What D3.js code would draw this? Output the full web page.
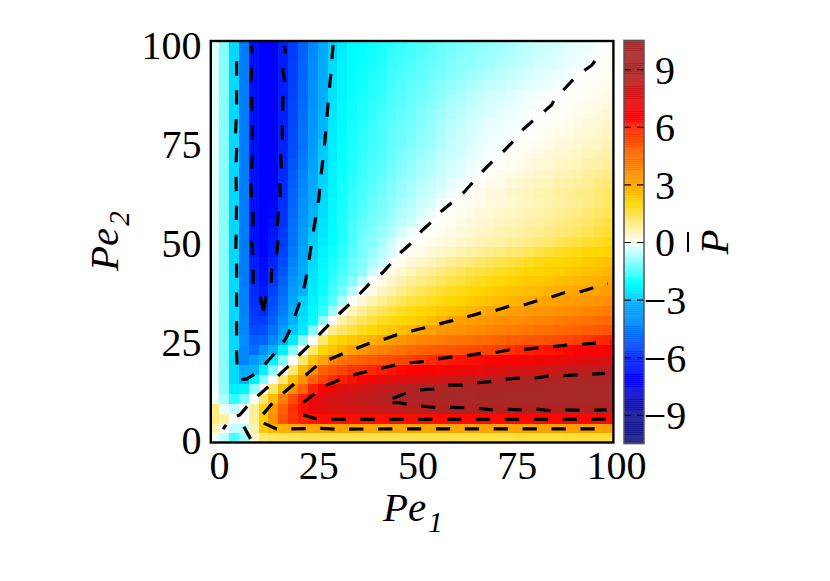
<!DOCTYPE html>
<html>
<head>
<meta charset="utf-8">
<script src="https://cdn.jsdelivr.net/npm/d3@7"></script>
<style>
body { margin: 0; background: #fff; }
text { font-family: "Liberation Serif", serif; fill: #000; }
.tick text { font-size: 40px; }
.axisTitle { font-size: 41px; font-style: italic; }
.axisSub { font-size: 29px; font-style: italic; }
</style>
</head>
<body>
<div id="chart"></div>
<script>
var width = 830, height = 581;

var xTicks = [0, 25, 50, 75, 100];
var yTicks = [0, 25, 50, 75, 100];
var barTicks = [-9, -6, -3, 0, 3, 6, 9];

// colour bar stops
var paletteValues = [-10.5, -9, -7.5, -7, -6.2, -5, -4, -3.05, -3, -2.1, 0, 2, 3, 5.4, 6.5, 8.7, 10.5];
var paletteColors = ["#1a1a80", "#14149c", "#0808e8", "#0000ff", "#0020ff", "#0060ff", "#0090ff", "#00b4ff",
    "#00c8ff", "#00ffff", "#ffffff", "#ffd700", "#ffa500", "#ff4500", "#ff0000", "#b22222", "#a52a2a"];

// P values per cell, top row (Pe2 = 100) first, each row Pe1 = 0..100 in steps of 2.5
var pRows = [
[-.25,-1,-2.7,-4.4,-6.6,-7,-7,-6.3,-5.7,-5,-4.2,-3.4,-2.8,-2.4,-2.15,-2.05,-1.95,-1.85,-1.75,-1.65,-1.55,-1.45,-1.35,-1.25,-1.15,-1.05,-1,-.9,-.85,-.8,-.7,-.6,-.55,-.45,-.4,-.35,-.25,-.2,-.15,-.05,0],
[-.25,-1,-2.7,-4.4,-6.6,-7,-7,-6.3,-5.7,-4.95,-4.15,-3.35,-2.75,-2.35,-2.15,-2.05,-1.95,-1.85,-1.7,-1.6,-1.5,-1.4,-1.3,-1.2,-1.1,-1,-.95,-.85,-.8,-.7,-.65,-.55,-.5,-.4,-.35,-.28,-.2,-.15,-.1,0,.03],
[-.25,-1,-2.7,-4.4,-6.6,-7,-7,-6.3,-5.65,-4.9,-4.1,-3.3,-2.7,-2.3,-2.1,-2,-1.9,-1.8,-1.65,-1.55,-1.45,-1.35,-1.25,-1.15,-1.05,-.95,-.9,-.8,-.75,-.65,-.55,-.5,-.45,-.35,-.3,-.25,-.18,-.12,-.05,.02,.06],
[-.25,-1,-2.7,-4.4,-6.6,-7,-7,-6.3,-5.6,-4.9,-4.05,-3.25,-2.65,-2.3,-2.1,-1.95,-1.85,-1.75,-1.6,-1.5,-1.4,-1.3,-1.2,-1.1,-1,-.9,-.8,-.75,-.65,-.55,-.5,-.42,-.35,-.28,-.22,-.16,-.1,0,.02,.05,.1],
[-.25,-1,-2.7,-4.4,-6.6,-7,-7,-6.25,-5.6,-4.85,-4,-3.2,-2.6,-2.25,-2.05,-1.95,-1.8,-1.7,-1.55,-1.45,-1.35,-1.25,-1.1,-1,-.9,-.8,-.7,-.6,-.5,-.45,-.38,-.32,-.25,-.2,-.15,-.1,0,.02,.05,.09,.15],
[-.25,-1,-2.7,-4.4,-6.6,-7,-7,-6.25,-5.55,-4.8,-3.95,-3.2,-2.6,-2.25,-2.05,-1.9,-1.8,-1.65,-1.5,-1.4,-1.3,-1.2,-1.05,-.95,-.8,-.7,-.6,-.5,-.4,-.35,-.28,-.22,-.16,-.1,-.05,0,.02,.05,.09,.14,.2],
[-.25,-1,-2.7,-4.4,-6.6,-7,-7,-6.2,-5.5,-4.75,-3.9,-3.15,-2.55,-2.2,-2,-1.85,-1.75,-1.6,-1.45,-1.35,-1.25,-1.1,-1,-.85,-.72,-.62,-.52,-.42,-.34,-.26,-.2,-.15,-.1,-.06,0,.02,.05,.1,.14,.2,.27],
[-.25,-1,-2.7,-4.4,-6.6,-7,-7,-6.2,-5.5,-4.7,-3.85,-3.1,-2.5,-2.2,-2,-1.85,-1.7,-1.55,-1.4,-1.3,-1.2,-1.05,-.92,-.8,-.65,-.55,-.45,-.35,-.28,-.2,-.15,-.1,-.05,0,.02,.05,.1,.15,.2,.26,.34],
[-.25,-1,-2.7,-4.4,-6.6,-7,-7,-6.2,-5.45,-4.65,-3.8,-3.05,-2.45,-2.15,-1.95,-1.8,-1.65,-1.5,-1.35,-1.25,-1.15,-1,-.88,-.72,-.58,-.48,-.38,-.28,-.2,-.14,-.1,-.05,0,.03,.06,.1,.16,.22,.28,.34,.42],
[-.25,-1,-2.7,-4.4,-6.6,-7,-7,-6.2,-5.4,-4.6,-3.75,-3.05,-2.4,-2.1,-1.9,-1.75,-1.6,-1.45,-1.3,-1.2,-1.1,-.95,-.82,-.68,-.55,-.42,-.32,-.22,-.15,-.1,-.05,0,.03,.06,.12,.18,.24,.3,.35,.42,.5],
[-.25,-1,-2.7,-4.4,-6.6,-7,-7,-6.2,-5.4,-4.6,-3.7,-3,-2.4,-2.1,-1.9,-1.75,-1.6,-1.45,-1.3,-1.2,-1.05,-.9,-.8,-.65,-.5,-.4,-.3,-.2,-.1,-.05,0,.03,.08,.12,.2,.25,.3,.38,.45,.5,.6],
[-.25,-1,-2.7,-4.4,-6.6,-7,-7,-6.15,-5.3,-4.5,-3.6,-2.95,-2.4,-2.05,-1.85,-1.7,-1.55,-1.4,-1.25,-1.1,-.95,-.85,-.7,-.55,-.45,-.35,-.25,-.15,-.08,0,.05,.1,.15,.2,.3,.35,.4,.45,.55,.6,.7],
[-.25,-1,-2.7,-4.4,-6.6,-7,-7,-6.1,-5.2,-4.4,-3.5,-2.9,-2.35,-2.05,-1.85,-1.65,-1.5,-1.35,-1.2,-1.05,-.9,-.75,-.65,-.5,-.38,-.28,-.2,-.1,0,.05,.1,.15,.25,.3,.35,.45,.5,.55,.65,.7,.8],
[-.25,-1,-2.7,-4.4,-6.6,-7,-7,-6.05,-5.1,-4.3,-3.4,-2.85,-2.3,-2,-1.8,-1.6,-1.45,-1.3,-1.15,-1,-.85,-.7,-.58,-.45,-.32,-.22,-.12,0,.05,.15,.2,.25,.35,.4,.45,.55,.6,.65,.75,.85,.95],
[-.25,-1,-2.7,-4.4,-6.6,-7,-7,-6,-5.05,-4.2,-3.35,-2.8,-2.3,-1.95,-1.75,-1.55,-1.4,-1.25,-1.05,-.9,-.75,-.6,-.48,-.35,-.25,-.12,0,.05,.15,.2,.3,.35,.45,.5,.55,.65,.7,.75,.85,.95,1.05],
[-.25,-1,-2.7,-4.4,-6.6,-7,-7,-5.95,-4.95,-4.1,-3.3,-2.75,-2.25,-1.95,-1.7,-1.5,-1.35,-1.15,-1,-.85,-.7,-.55,-.42,-.3,-.15,0,.05,.15,.25,.3,.4,.45,.5,.6,.65,.75,.8,.9,.95,1.05,1.2],
[-.25,-1,-2.7,-4.4,-6.6,-7,-6.9,-5.9,-4.9,-4,-3.2,-2.7,-2.2,-1.9,-1.65,-1.45,-1.25,-1.1,-.9,-.75,-.6,-.45,-.32,-.15,0,.05,.1,.16,.24,.3,.36,.42,.5,.55,.62,.7,.78,.85,.95,1.05,1.2],
[-.25,-1,-2.7,-4.4,-6.6,-7,-6.8,-5.85,-4.8,-3.9,-3.1,-2.65,-2.2,-1.9,-1.6,-1.4,-1.2,-1.05,-.85,-.65,-.5,-.35,-.2,0,.06,.12,.2,.28,.32,.4,.45,.5,.6,.65,.75,.8,.9,1,1.1,1.2,1.35],
[-.25,-1,-2.7,-4.4,-6.6,-7,-6.6,-5.8,-4.7,-3.8,-3.05,-2.55,-2.15,-1.85,-1.55,-1.3,-1.15,-.95,-.75,-.55,-.4,-.2,0,.06,.12,.2,.28,.35,.4,.48,.55,.6,.7,.75,.85,.95,1.05,1.1,1.2,1.35,1.5],
[-.25,-1,-2.7,-4.4,-6.6,-7,-6.5,-5.75,-4.65,-3.7,-3,-2.5,-2.1,-1.85,-1.5,-1.2,-1.05,-.85,-.6,-.35,-.15,0,.06,.12,.2,.28,.35,.45,.5,.6,.65,.7,.8,.85,.95,1.05,1.15,1.25,1.35,1.5,1.65],
[-.25,-1,-2.7,-4.4,-6.6,-7,-6.4,-5.7,-4.6,-3.6,-2.9,-2.4,-2.1,-1.8,-1.5,-1.1,-1,-.7,-.4,-.15,0,.08,.15,.25,.3,.4,.5,.6,.65,.7,.8,.85,.95,1.05,1.15,1.3,1.4,1.5,1.6,1.7,1.85],
[-.25,-1,-2.7,-4.4,-6.5,-7,-6.3,-5.6,-4.5,-3.5,-2.8,-2.3,-2,-1.7,-1.4,-1.1,-.85,-.55,-.3,0,.1,.2,.3,.4,.5,.6,.7,.85,.9,1,1.1,1.15,1.3,1.45,1.6,1.7,1.8,1.85,1.95,2,2.1],
[-.25,-1,-2.7,-4.4,-6.3,-6.8,-6.1,-5.4,-4.3,-3.4,-2.7,-2.2,-1.9,-1.6,-1.3,-1,-.7,-.4,0,.15,.3,.42,.55,.7,.85,.95,1.05,1.2,1.3,1.4,1.5,1.6,1.75,1.85,1.95,2,2.05,2.15,2.25,2.35,2.45],
[-.25,-1,-2.7,-4.4,-6.2,-6.7,-5.9,-5.2,-4.1,-3.3,-2.6,-2.15,-1.8,-1.5,-1.2,-.9,-.45,0,.15,.35,.55,.7,.85,1,1.15,1.25,1.4,1.5,1.6,1.7,1.8,1.9,2,2.05,2.15,2.2,2.3,2.35,2.45,2.55,2.7],
[-.25,-1,-2.7,-4.4,-6.1,-6.6,-5.8,-5,-3.9,-3.2,-2.5,-2.1,-1.7,-1.35,-1,-.5,0,.2,.4,.6,.8,.95,1.1,1.25,1.4,1.5,1.65,1.75,1.85,1.95,2.05,2.15,2.25,2.3,2.4,2.5,2.55,2.65,2.7,2.8,2.95],
[-.25,-1,-2.7,-4.3,-6,-6.4,-5.6,-4.8,-3.7,-3.05,-2.4,-2,-1.55,-1.15,-.6,0,.2,.45,.65,.9,1.1,1.3,1.45,1.6,1.75,1.85,1.95,2.05,2.15,2.25,2.35,2.45,2.55,2.6,2.7,2.8,2.9,3,3.05,3.1,3.2],
[-.25,-1,-2.7,-4.3,-5.9,-6.2,-5.4,-4.6,-3.5,-2.85,-2.3,-1.85,-1.4,-.7,0,.35,.6,.85,1.05,1.25,1.45,1.6,1.75,1.85,2,2.1,2.2,2.35,2.45,2.55,2.65,2.75,2.85,3,3.05,3.15,3.2,3.3,3.35,3.45,3.55],
[-.25,-1,-2.7,-4.3,-5.8,-6,-5.2,-4.4,-3.3,-2.7,-2.2,-1.7,-.8,0,.5,.85,1.1,1.3,1.5,1.7,1.85,2,2.1,2.25,2.4,2.5,2.65,2.8,3,3.05,3.15,3.2,3.3,3.35,3.45,3.5,3.6,3.7,3.8,3.9,4],
[-.25,-1,-2.7,-4.2,-5.6,-5.7,-5,-4.1,-3.1,-2.6,-2.1,-.9,0,.7,1,1.3,1.5,1.7,1.85,2,2.15,2.3,2.5,2.7,3,3.1,3.2,3.3,3.4,3.5,3.55,3.6,3.7,3.8,3.9,4,4.1,4.2,4.3,4.4,4.5],
[-.25,-1,-2.7,-4.2,-5.4,-5.3,-4.6,-3.7,-3,-2.4,-1,0,.9,1.2,1.5,1.75,1.95,2.15,2.3,2.5,2.75,3,3.15,3.3,3.4,3.5,3.6,3.7,3.8,3.9,4,4.1,4.2,4.3,4.4,4.5,4.6,4.7,4.8,4.9,5],
[-.25,-1,-2.7,-4.1,-5,-4.9,-4.2,-3.2,-2.4,-1,0,1.1,1.9,2.1,2.3,2.5,2.75,3,3.2,3.4,3.6,3.8,3.9,4,4.15,4.25,4.35,4.45,4.55,4.65,4.75,4.85,4.95,5.05,5.15,5.25,5.4,5.5,5.6,5.8,5.95],
[-.25,-1,-2.7,-4.2,-4.7,-4,-3.05,-2.3,-1,0,1.1,2,2.4,2.7,3.1,3.4,3.7,3.9,4.1,4.3,4.5,4.65,4.8,4.9,5,5.1,5.2,5.3,5.4,5.5,5.7,5.9,6,6.1,6.2,6.3,6.4,6.5,6.55,6.6,6.7],
[-.25,-1,-2.7,-4.2,-3.8,-3.05,-2.3,-1,0,1.1,2.4,3,3.8,4.2,4.5,4.7,4.9,5.1,5.2,5.35,5.45,5.6,5.8,6,6.1,6.2,6.3,6.4,6.45,6.5,6.6,6.7,6.8,6.9,7,7.1,7.2,7.3,7.4,7.5,7.6],
[-.25,-1,-2.7,-3.3,-3.1,-2.3,-1,0,1.1,2.5,3.5,4.7,5.1,5.4,5.6,5.75,5.9,6,6.2,6.4,6.5,6.6,6.7,6.8,6.9,7,7.1,7.2,7.4,7.5,7.6,7.7,7.8,7.9,8,8.1,8.2,8.3,8.4,8.5,8.6],
[-.25,-.95,-2.7,-3.05,-2.3,-1,0,1.1,2.5,3.5,4.7,5.4,5.8,6,6.3,6.6,6.9,7.1,7.3,7.4,7.5,7.6,7.7,7.9,8,8.2,8.3,8.4,8.5,8.6,8.7,8.8,9,9.1,9.2,9.25,9.3,9.35,9.4,9.45,9.5],
[-.15,-.9,-2.4,-2.25,-.9,0,1.2,2.5,3.5,4.7,6,6.6,7.1,7.4,7.6,7.8,8,8.1,8.3,8.5,8.7,8.9,9,9.1,9.3,9.4,9.5,9.6,9.7,9.8,9.8,9.9,9.9,9.9,10,10,10,10,10,10,10],
[-.1,-.7,-1.7,-1.1,.02,1.1,2.5,4,5.2,6,6.9,7.4,7.7,7.9,8.1,8.3,8.4,8.6,9,9.2,9.4,9.5,9.7,9.8,9.9,10,10,10.1,10.1,10.1,10.2,10.2,10.2,10.2,10.2,10.2,10.2,10.2,10.2,10.2,10.2],
[1,-.2,-.5,-.05,.8,2.1,3.3,4.7,5.7,6.3,7.1,7.4,7.6,7.7,7.8,7.9,8,8.1,8.2,8.3,8.4,8.5,8.55,8.6,8.7,8.8,8.9,9,9,9,9,9,9,9,9,9,9.1,9.1,9.1,9.1,9.1],
[1,.7,.05,0,.8,2.2,3.5,5,5.7,6,6.2,6.3,6.3,6.3,6.3,6.3,6.3,6.3,6.3,6.3,6.3,6.3,6.3,6.35,6.35,6.35,6.35,6.35,6.35,6.35,6.35,6.4,6.4,6.4,6.4,6.4,6.4,6.4,6.4,6.4,6.4],
[.6,0,-.5,-.5,.6,2.3,2.6,2.8,2.9,3,3,3,3,3,3,3,3,3,3,3,3,3,3,3,3,3.05,3.05,3.05,3.05,3.05,3.05,3.05,3.05,3.1,3.1,3.1,3.1,3.1,3.1,3.1,3.1],
[-.05,-.5,-1.5,-.8,.4,1.1,1.25,1.3,1.35,1.4,1.4,1.4,1.4,1.4,1.4,1.4,1.4,1.4,1.4,1.4,1.4,1.45,1.45,1.45,1.45,1.45,1.5,1.5,1.5,1.5,1.5,1.55,1.55,1.55,1.55,1.55,1.6,1.6,1.6,1.6,1.6]
];

// contour lines, [Pe1, Pe2], each listed from where its dashes start
var lineZero = [[95.4,94.9],[94.7,93.9],[92.9,92.6],[89.9,90.2],[87.6,87.7],[85,84.8],[84.4,83.7],[82.7,82.2],[79.9,79.9],[77.2,77.5],[74.7,74.5],[72.3,72],[69.6,69.5],[67,66.9],[64.5,64.1],[62.1,61.4],[59.3,59],[56.5,56.7],[53.9,53.9],[51.4,51.6],[48.9,48.6],[46.3,46.3],[43.8,43.5],[41.5,41],[38.4,38.4],[36,35.9],[33.4,33.2],[30.8,30.8],[28.3,28.2],[25.7,25.5],[23.2,22.8],[20.5,20.2],[17.9,17.4],[15.4,15.1],[12.9,12.3],[10.3,10],[7.8,7.7],[5.2,4.7],[2.9,3.85],[1,1.1]];
var lineZeroLow = [[7.95,-1.4],[6.25,1.7]];
var lineMinus3 = [[28.9,99],[28.35,91.8],[27.5,82.4],[26.8,74.3],[26,67.1],[25.3,59.9],[24.1,52.7],[23.45,48.6],[23,45.5],[22.4,41.5],[21.75,38.1],[20.7,34.2],[19.6,31],[18.4,27.2],[16.9,24.2],[14.7,21.1],[12.4,18.5],[9.6,15.5],[6.9,13.8],[5.9,13.8],[4.55,17],[4.4,20.8],[4.4,28.1],[4.4,35.3],[4.4,42.5],[4.2,46.3],[4.4,59.5],[4.2,67.1],[4.4,72.2],[4.1,75.6],[4.4,82.4],[4.4,97.7]];
var lineMinus6Right = [[11.25,31.3],[11.85,34.7],[13.2,38.3],[13.3,41.6],[14.55,45.5],[14.9,48.9],[14.7,52.7],[15,56.1],[15.5,60.1],[15.4,63.6],[15.8,67.6],[15.6,70.7],[16,74.8],[16,78.2],[16.1,82.2],[16.2,85.4],[16.7,89.4],[16.1,92.6],[16.9,96.6],[16.5,98.8]];
var lineMinus6Left = [[11.25,31.3],[10.5,34.4],[8.6,37.8],[8.6,41.2],[8.6,45.2],[8.2,48.4],[8.6,52.7],[8.6,55.7],[8.2,59.9],[8,63],[8.2,67.1],[8.4,70.5],[8.4,74.5],[8.4,77.9],[8.4,81.8],[8.2,85.1],[8,89],[8.2,92.4],[8.4,96.4],[8.2,98.8]];
var linePlus3Top = [[11.15,4.9],[13.5,7.7],[16.2,10.2],[19,12.6],[22,14.9],[24.7,17.2],[28.1,18.9],[31.3,20.3],[34.9,21.7],[38.3,23],[41.9,24],[45,25.1],[49.3,26.2],[52.2,26.9],[55.9,27.9],[59.4,28.8],[63,29.7],[66.5,30.7],[70.1,31.3],[73.7,32.4],[77.3,32.7],[80.8,33.8],[84.3,34.7],[87.8,35.9],[91.4,36],[95,37.1],[98.7,38.1]];
var linePlus3Low = [[11.3,2.6],[14.6,1.1],[25.7,1.25],[29.4,1.1],[60,1.15],[99,1.15]];
var linePlus6Top = [[21.3,7.8],[24.3,10.2],[27.3,12.3],[30.5,13.6],[34,14.9],[37.4,15.7],[41.2,16.6],[44.6,17.4],[48.4,18],[52,18.3],[55.6,19],[59.2,19.5],[62.8,19.8],[66.5,20.4],[70.1,20.6],[73.7,21.3],[77.4,21.4],[81,21.8],[84.7,22.1],[88.2,22.5],[91.9,22.7],[95.6,23],[99.5,23.3]];
var linePlus6Low = [[21.3,4.7],[24.7,3.7],[28.5,3.6],[50,3.55],[75,3.55],[99.2,3.6]];
var linePlus9Top = [[44,8.9],[47.4,10.2],[51,11.1],[54.5,11.3],[58.2,12.3],[61.7,12.3],[65.4,12.9],[68.8,13.2],[72.6,13.8],[76.1,14.1],[79.8,14],[83.3,14.6],[87.1,14.7],[90.6,14.9],[94.3,15.1],[98,15.3]];
var linePlus9Low = [[44,7.8],[45.9,7.8],[47.2,7.5],[51,7],[54.5,6.65],[58.3,6.65],[61.8,6.55],[65.5,6.4],[69.2,6],[72.8,6.15],[76.4,6],[80.2,6.2],[83.8,5.8],[87.6,6],[91.2,5.9],[94.8,5.9],[98.4,6]];

var contourLines = [lineZero, lineZeroLow, lineMinus3, lineMinus6Right, lineMinus6Left, linePlus3Top, linePlus3Low,
    linePlus6Top, linePlus6Low, linePlus9Top, linePlus9Low];

var margin = {left: 211.4, right: 217, top: 41, bottom: 139};

var svg = d3.select("#chart").append("svg")
    .attr("width", width)
    .attr("height", height);

var x = d3.scaleLinear().domain([-2, 100]).range([margin.left, width - margin.right]);
var y = d3.scaleLinear().domain([-2.2, 100]).range([height - margin.bottom, margin.top]);
var color = d3.scaleLinear().domain(paletteValues).range(paletteColors).clamp(true);

svg.append("clipPath").attr("id", "plotClip")
    .append("rect")
    .attr("x", x(-2)).attr("y", y(100))
    .attr("width", x(100) - x(-2)).attr("height", y(-2.2) - y(100));

// heat map
var cells = [];
pRows.forEach(function(row, i) {
    row.forEach(function(v, c) {
        cells.push({pe1: 2.5 * c, pe2: 2.5 * (pRows.length - 1 - i), value: v});
    });
});

svg.append("g")
    .attr("clip-path", "url(#plotClip)")
    .attr("shape-rendering", "crispEdges")
    .selectAll("rect")
    .data(cells)
    .enter()
    .append("rect")
    .attr("x", d => x(d.pe1 - 2.5))
    .attr("y", d => y(d.pe2))
    .attr("width", d => x(d.pe1) - x(d.pe1 - 2.5) + 0.5)
    .attr("height", d => y(d.pe2 - 2.5) - y(d.pe2) + 0.5)
    .style("fill", d => color(d.value));

// contours
var line = d3.line().x(d => x(d[0])).y(d => y(d[1]));

svg.append("g")
    .attr("clip-path", "url(#plotClip)")
    .selectAll("path")
    .data(contourLines)
    .enter()
    .append("path")
    .attr("d", line)
    .attr("fill", "none")
    .attr("stroke", "#000")
    .attr("stroke-width", 3.2)
    .attr("stroke-dasharray", "14.3,14.6");

// frame
svg.append("rect")
    .attr("x", x(-2) - 0.6).attr("y", y(100))
    .attr("width", x(100) - x(-2) + 1).attr("height", y(-2.2) - y(100) + 0.5)
    .attr("fill", "none")
    .attr("stroke", "#000")
    .attr("stroke-width", 2.4);

// axes, the gnuplot labels sit a little off the plot scale so they get their own
var xLabel = d3.scaleLinear().domain([0, 100]).range([219, 616]);
var yLabel = d3.scaleLinear().domain([0, 100]).range([441, 46]);

var xAxis = d3.axisBottom(xLabel).tickValues(xTicks).tickSize(0).tickPadding(0).tickFormat(d3.format("d"));
var yAxis = d3.axisLeft(yLabel).tickValues(yTicks).tickSize(0).tickPadding(0).tickFormat(d3.format("d"));

var xAxisG = svg.append("g")
    .attr("transform", `translate(0, ${y(-2.2)})`)
    .call(xAxis);
xAxisG.select(".domain").remove();
xAxisG.selectAll(".tick text").attr("y", 9).style("font-family", "Liberation Serif");

var yAxisG = svg.append("g")
    .attr("transform", `translate(${x(-2) - 10}, 0)`)
    .call(yAxis);
yAxisG.select(".domain").remove();
yAxisG.selectAll(".tick text").style("font-family", "Liberation Serif");

svg.append("text")
    .attr("class", "axisTitle")
    .attr("x", 383).attr("y", 521)
    .text("Pe")
    .append("tspan")
    .attr("class", "axisSub")
    .attr("dx", 2).attr("dy", 11)
    .text("1");

svg.append("text")
    .attr("class", "axisTitle")
    .attr("transform", "translate(118, 271) rotate(-90)")
    .text("Pe")
    .append("tspan")
    .attr("class", "axisSub")
    .attr("dx", 2).attr("dy", 11)
    .text("2");

// colour bar
var barX = 624, barW = 20;
var yBar = d3.scaleLinear().domain([-10.5, 10.5]).range([443.6, 40.4]);
var barStrips = d3.range(-10.5, 10.5, 0.1);

svg.append("g")
    .attr("shape-rendering", "crispEdges")
    .selectAll("rect")
    .data(barStrips)
    .enter()
    .append("rect")
    .attr("x", barX)
    .attr("width", barW)
    .attr("y", d => yBar(d + 0.1))
    .attr("height", d => yBar(d) - yBar(d + 0.1) + 0.5)
    .style("fill", d => color(d + 0.05))
    .style("fill-opacity", 0.92);

var barAxis = d3.axisRight(yBar).tickValues(barTicks).tickSize(-barW).tickPadding(0);
var barAxisG = svg.append("g")
    .attr("transform", `translate(${barX + barW}, 0)`)
    .call(barAxis);
barAxisG.select(".domain").remove();
barAxisG.selectAll(".tick line")
    .attr("stroke", "#000")
    .attr("stroke-width", 1.2)
    .attr("stroke-dasharray", "7,6");
barAxisG.selectAll(".tick text")
    .attr("x", 21).attr("y", 1)
    .attr("text-anchor", "middle")
    .style("font-family", "Liberation Serif");

svg.append("rect")
    .attr("x", barX).attr("y", yBar(10.5))
    .attr("width", barW).attr("height", yBar(-10.5) - yBar(10.5))
    .attr("fill", "none")
    .attr("stroke", "#555")
    .attr("stroke-width", 1.5);

// P bar label
svg.append("text")
    .attr("class", "axisTitle")
    .attr("text-anchor", "middle")
    .attr("transform", "translate(728, 242) rotate(-90)")
    .text("P");
svg.append("line")
    .attr("x1", 688).attr("x2", 688)
    .attr("y1", 232).attr("y2", 252)
    .attr("stroke", "#000")
    .attr("stroke-width", 2);
</script>
</body>
</html>
